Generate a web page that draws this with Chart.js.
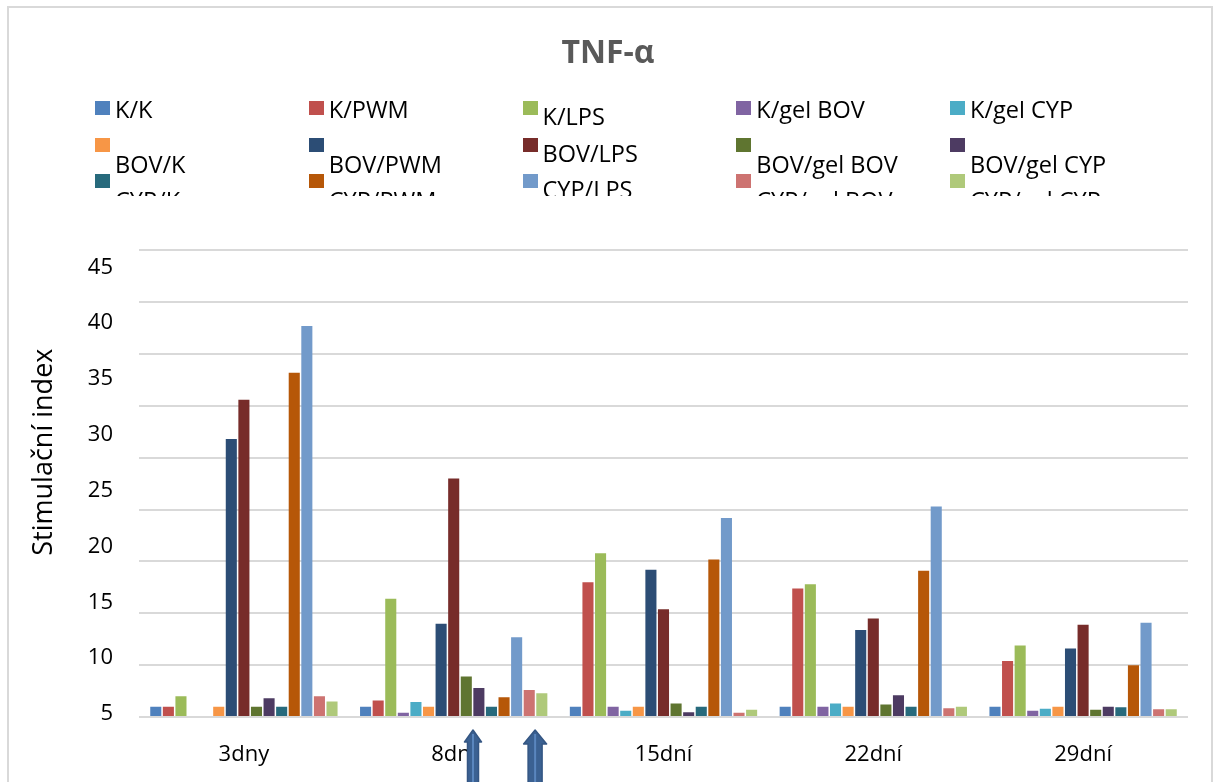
<!DOCTYPE html>
<html>
<head>
<meta charset="utf-8">
<script src="https://cdn.jsdelivr.net/npm/chart.js@4"></script>
<style>
  html, body { margin: 0; padding: 0; background: #fff; }
  #wrap { position: relative; width: 1218px; height: 782px; overflow: hidden; }
  #frame { position: absolute; left: 7px; top: 6px; width: 1206px; height: 800px; border: 2px solid #d9d9d9; box-sizing: border-box; pointer-events: none; }
  canvas { position: absolute; left: 0; top: 0; }
  #legend { position: absolute; left: 95px; top: 101px; width: 1080px; height: 95px; overflow: hidden; font-family: 'Open Sans', sans-serif; font-size: 23.5px; color: #000; }
  .item { position: absolute; width: 213px; height: 37px; }
  .item .box { position: absolute; left: 0; top: 0; width: 15px; height: 14px; }
  .item .txt { position: absolute; left: 20px; line-height: 24px; white-space: nowrap; }
</style>
</head>
<body>
<div id="wrap">
  <canvas id="tnfChart" width="1218" height="782"></canvas>
  <div id="legend"></div>
  <div id="frame"></div>
</div>
<script>
// categories (days)
const categories = ['3dny', '8dní', '15dní', '22dní', '29dní'];

// series values, one array per group
const kK        = [1.0, 1.0, 1.0, 1.0, 1.0];
const kPWM      = [1.0, 1.6, 13.0, 12.4, 5.4];
const kLPS      = [2.0, 11.4, 15.8, 12.8, 6.9];
const kGelBOV   = [0.1, 0.4, 1.0, 1.0, 0.6];
const kGelCYP   = [0.1, 1.45, 0.6, 1.3, 0.8];
const bovK      = [1.0, 1.0, 1.0, 1.0, 1.0];
const bovPWM    = [26.8, 9.0, 14.2, 8.4, 6.6];
const bovLPS    = [30.6, 23.0, 10.4, 9.5, 8.9];
const bovGelBOV = [1.0, 3.9, 1.3, 1.2, 0.7];
const bovGelCYP = [1.8, 2.8, 0.45, 2.1, 1.0];
const cypK      = [1.0, 1.0, 1.0, 1.0, 0.95];
const cypPWM    = [33.2, 1.9, 15.2, 14.1, 5.0];
const cypLPS    = [37.7, 7.7, 19.2, 20.3, 9.1];
const cypGelBOV = [2.0, 2.6, 0.4, 0.85, 0.75];
const cypGelCYP = [1.5, 2.3, 0.7, 1.0, 0.75];

const seriesNames = ['K/K', 'K/PWM', 'K/LPS', 'K/gel BOV', 'K/gel CYP',
  'BOV/K', 'BOV/PWM', 'BOV/LPS', 'BOV/gel BOV', 'BOV/gel CYP',
  'CYP/K', 'CYP/PWM', 'CYP/LPS', 'CYP/gel BOV', 'CYP/gel CYP'];
const seriesValues = [kK, kPWM, kLPS, kGelBOV, kGelCYP,
  bovK, bovPWM, bovLPS, bovGelBOV, bovGelCYP,
  cypK, cypPWM, cypLPS, cypGelBOV, cypGelCYP];
const seriesColors = ['#4F81BD', '#C0504D', '#9BBB59', '#8064A2', '#4BACC6',
  '#F79646', '#2C4D75', '#772C2A', '#5F7530', '#4D3B62',
  '#276A7C', '#B65708', '#729ACA', '#CD7371', '#AFC97A'];

// tick labels shown on the left (they sit a little off the gridlines in the original)
const yTickLabels = [5, 10, 15, 20, 25, 30, 35, 40, 45];

// the two block arrows under 8dní, in category units
const arrowSpots = [1.092, 1.388];

const datasets = seriesNames.map((name, i) => ({
  label: name,
  data: seriesValues[i],
  backgroundColor: seriesColors[i],
  borderWidth: 0,
  barPercentage: 0.88,
  categoryPercentage: 0.9
}));

// legend as html so it can be clipped like the original
const legend = document.getElementById('legend');
seriesNames.forEach((name, i) => {
  const row = Math.floor(i / 5), col = i % 5;
  const item = document.createElement('div');
  item.className = 'item';
  item.style.left = (col * 213.75) + 'px';
  item.style.top = (row * 36.7) + 'px';
  const txtTop = col === 2 ? 3 : (row === 0 ? -4 : 14);
  item.innerHTML = '<div class="box" style="background:' + seriesColors[i] + '"></div>' +
    '<div class="txt" style="top:' + txtTop + 'px">' + name + '</div>';
  legend.appendChild(item);
});

const arrowPlugin = {
  id: 'arrows',
  afterDraw(chart) {
    const ctx = chart.ctx;
    const x = chart.scales.x;
    const step = x.getPixelForValue(1) - x.getPixelForValue(0);
    const top = chart.chartArea.bottom + 13;
    const sizes = [{ head: 17, shaft: 11, hh: 12 }, { head: 23, shaft: 14, hh: 14 }];
    arrowSpots.forEach((pos, k) => {
      const cx = x.getPixelForValue(0) + pos * step;
      const s = sizes[k];
      const bottom = chart.height + 10;
      ctx.save();
      ctx.beginPath();
      ctx.moveTo(cx, top);
      ctx.lineTo(cx + s.head / 2, top + s.hh);
      ctx.lineTo(cx + s.shaft / 2, top + s.hh);
      ctx.lineTo(cx + s.shaft / 2, bottom);
      ctx.lineTo(cx - s.shaft / 2, bottom);
      ctx.lineTo(cx - s.shaft / 2, top + s.hh);
      ctx.lineTo(cx - s.head / 2, top + s.hh);
      ctx.closePath();
      ctx.fillStyle = '#3B6192';
      ctx.fill();
      ctx.lineJoin = 'round';
      ctx.strokeStyle = '#345683';
      ctx.lineWidth = 1.5;
      ctx.stroke();
      ctx.beginPath();
      ctx.moveTo(cx, top + 4);
      ctx.lineTo(cx, bottom);
      ctx.strokeStyle = '#5A86BE';
      ctx.lineWidth = 2;
      ctx.stroke();
      ctx.restore();
    });
  }
};

const ctx = document.getElementById('tnfChart').getContext('2d');
const tnfChart = new Chart(ctx, {
  type: 'bar',
  data: { labels: categories, datasets: datasets },
  plugins: [arrowPlugin],
  options: {
    responsive: false,
    animation: false,
    layout: { padding: { left: 28, right: 30, top: 0, bottom: 0 } },
    plugins: {
      legend: { display: false },
      tooltip: { enabled: false },
      title: {
        display: true,
        text: 'TNF-α',
        color: '#595959',
        font: { family: 'Open Sans', size: 32, weight: 'bold' },
        padding: { top: 35, bottom: 177 }
      }
    },
    scales: {
      x: {
        grid: { display: false },
        border: { display: false },
        ticks: { color: '#000', font: { family: 'Open Sans', size: 22 }, padding: 17 },
        afterFit: s => { s.height = 65; }
      },
      y: {
        min: 0,
        max: 45,
        ticks: { display: false, stepSize: 5 },
        grid: { color: '#d9d9d9', lineWidth: 2, drawTicks: false },
        border: { display: false },
        afterFit: s => { s.width = 0; }
      },
      // label-only axis: 5 sits just above the baseline and 45 below the top line
      yl: {
        type: 'linear',
        position: 'left',
        min: 4.73,
        max: 46.52,
        grid: { display: false, drawTicks: false },
        border: { display: false },
        ticks: { color: '#000', font: { family: 'Open Sans', size: 22 }, padding: 26 },
        afterBuildTicks: s => { s.ticks = yTickLabels.map(v => ({ value: v })); },
        title: {
          display: true,
          // leading spaces push the centred (rotated) title up a bit, like the original
          text: 'Stimulační index'.padStart(25, ' '),
          color: '#000',
          font: { family: 'Open Sans', size: 27 },
          padding: { top: 0, bottom: 0 }
        },
        afterFit: s => { s.width = 111; }
      }
    }
  }
});
</script>
</body>
</html>
